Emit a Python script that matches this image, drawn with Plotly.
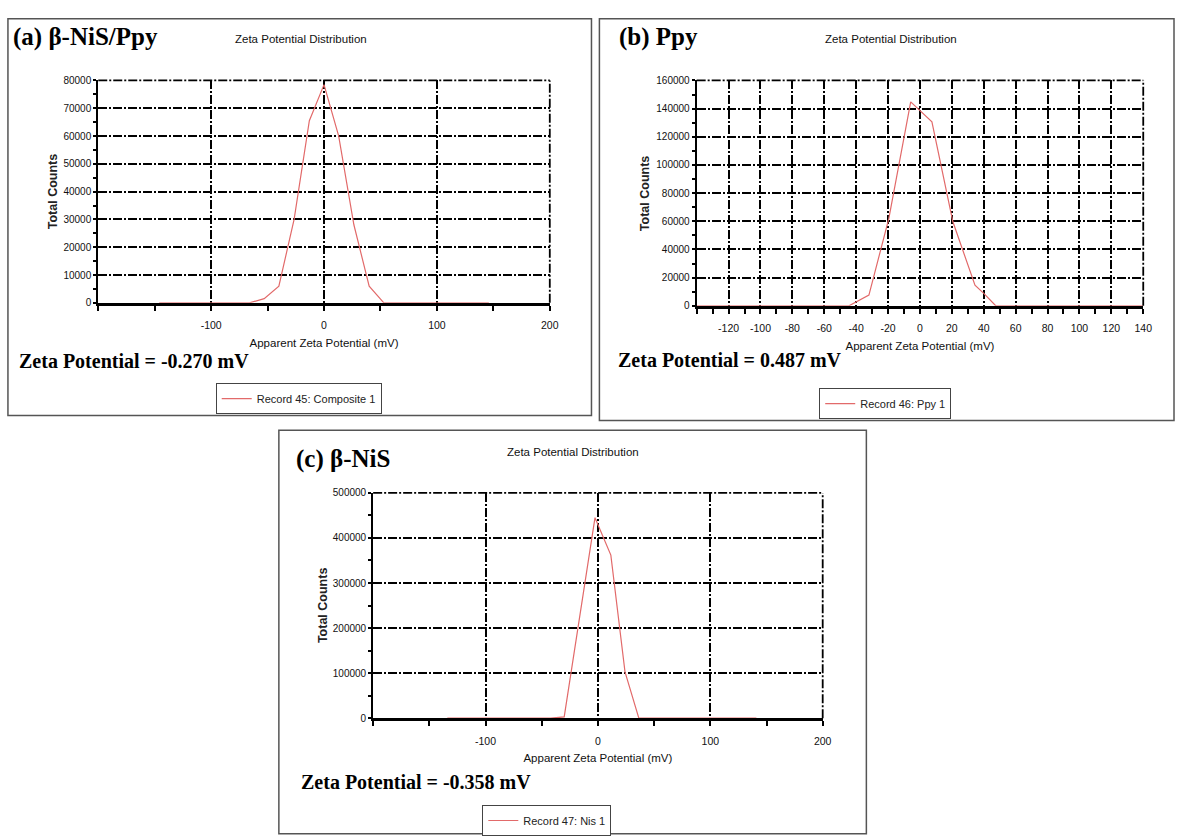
import plotly.graph_objects as go

W, H = 1184, 836

# ---------------- data ----------------
# (a) beta-NiS/Ppy
a_x = [-146, -66, -53, -40, -26.5, -13, 0, 13, 26.5, 40, 53, 66, 146]
a_y = [0, 0, 1500, 6000, 30000, 65500, 78500, 60000, 28000, 6000, 0, 0, 0]
# (b) Ppy
b_x = [-140, -44.5, -32, -19.5, -5.8, 7.5, 20.6, 34.5, 40, 47.5, 140]
b_y = [0, 0, 7600, 62000, 144800, 130600, 59800, 14600, 8800, 0, 0]
# (c) beta-NiS
c_x = [-134, -42, -30, -2.6, 11.5, 24.1, 36.4, 141]
c_y = [0, 0, 3000, 445000, 362000, 103000, 0, 0]

panel_labels = ["(a) β-NiS/Ppy", "(b) Ppy", "(c) β-NiS"]
zeta_texts = ["Zeta Potential = -0.270 mV", "Zeta Potential = 0.487 mV",
              "Zeta Potential = -0.358 mV"]
record_names = ["Record 45: Composite 1", "Record 46: Ppy 1", "Record 47: Nis 1"]
chart_title = "Zeta Potential Distribution"
x_title = "Apparent Zeta Potential (mV)"
y_title = "Total Counts"

a_xticks = [-100, 0, 100, 200]
b_xticks = [-120, -100, -80, -60, -40, -20, 0, 20, 40, 60, 80, 100, 120, 140]
c_xticks = [-100, 0, 100, 200]


def px(x):
    return x / W


def py(y):
    return 1 - y / H


SANS = "Liberation Sans, Arial, sans-serif"
SERIF = "Liberation Serif, Times New Roman, serif"
LINE_COLOR = "#e26a6a"
GRID_DASH = "9px,2px,2px,2px"

fig = go.Figure()
fig.add_trace(go.Scatter(x=a_x, y=a_y, mode="lines", name=record_names[0],
                         line=dict(color=LINE_COLOR, width=1.2),
                         xaxis="x", yaxis="y", legend="legend", showlegend=True))
fig.add_trace(go.Scatter(x=b_x, y=b_y, mode="lines", name=record_names[1],
                         line=dict(color=LINE_COLOR, width=1.2),
                         xaxis="x2", yaxis="y2", legend="legend2", showlegend=True))
fig.add_trace(go.Scatter(x=c_x, y=c_y, mode="lines", name=record_names[2],
                         line=dict(color=LINE_COLOR, width=1.2),
                         xaxis="x3", yaxis="y3", legend="legend3", showlegend=True))

tickfont = dict(family=SANS, size=10.5, color="#111")
ytickfont = dict(family=SANS, size=10, color="#111")
titlefont = dict(family=SANS, size=11.5, color="#111")
ytitlefont = dict(family=SANS, size=12.5, color="#222", weight="bold")


def xaxis(domain, anchor, rng, tickvals, minor_dtick):
    return dict(domain=domain, anchor=anchor, range=rng, tickmode="array",
                tickvals=tickvals, ticktext=[str(v) for v in tickvals],
                ticks="outside", ticklen=5, tickwidth=1.5, tickcolor="black",
                ticklabelstandoff=6,
                showline=True, linecolor="black", linewidth=2.5,
                showgrid=True, gridcolor="black", gridwidth=1.8, griddash=GRID_DASH,
                zeroline=False, tickfont=tickfont,
                minor=dict(dtick=minor_dtick, tick0=0, ticks="outside", ticklen=5,
                           tickwidth=1.5, tickcolor="black", showgrid=False),
                title=dict(text=x_title, font=titlefont, standoff=9))


def yaxis(domain, anchor, rng, dtick):
    return dict(domain=domain, anchor=anchor, range=rng, dtick=dtick, tick0=0,
                tickformat="d", ticks="outside", ticklen=3, tickwidth=1.5,
                tickcolor="black", ticklabelstandoff=0,
                showline=True, linecolor="black", linewidth=2,
                showgrid=True, gridcolor="black", gridwidth=1.8, griddash=GRID_DASH,
                zeroline=False, tickfont=ytickfont,
                minor=dict(dtick=dtick / 2, tick0=0, ticks="outside", ticklen=3,
                           tickwidth=1.5, tickcolor="black", showgrid=False))


fig.update_layout(
    width=W, height=H, margin=dict(l=0, r=0, t=0, b=0),
    paper_bgcolor="white", plot_bgcolor="white", showlegend=True,
    xaxis=xaxis([px(99), px(554)], "y", [-200, 200], a_xticks, 50),
    yaxis=yaxis([py(303), py(76)], "x", [0, 80000], 10000),
    xaxis2=xaxis([px(702), px(1152)], "y2", [-140, 140], b_xticks, 10),
    yaxis2=yaxis([py(306), py(76)], "x2", [0, 160000], 20000),
    xaxis3=xaxis([px(376), px(829)], "y3", [-200, 200], c_xticks, 50),
    yaxis3=yaxis([py(727), py(497)], "x3", [0, 500000], 100000),
)

legend_common = dict(xanchor="center", yanchor="top", bgcolor="white",
                     bordercolor="#444", borderwidth=1, visible=True,
                     font=dict(family=SANS, size=11, color="#222"),
                     itemwidth=30, tracegroupgap=0)
fig.update_layout(
    legend=dict(x=px(301), y=py(385), **legend_common),
    legend2=dict(x=px(892), y=py(390), **legend_common),
    legend3=dict(x=px(551), y=py(816), **legend_common),
)

# panel borders
borders = [(8, 13, 596, 418), (604, 13, 1183, 423), (281, 433, 873, 845)]
for (x0, y0, x1, y1) in borders:
    fig.add_shape(type="rect", xref="paper", yref="paper",
                  x0=px(x0), x1=px(x1), y0=py(y1), y1=py(y0),
                  line=dict(color="#555", width=1.5), layer="below")

# frame top/right dashed lines (grid at range ends)
for xa, ya in [("x", "y"), ("x2", "y2"), ("x3", "y3")]:
    fig.add_shape(type="line", xref=f"{xa} domain", yref=f"{ya} domain",
                  x0=0, x1=1, y0=1, y1=1,
                  line=dict(color="black", width=1.8, dash=GRID_DASH))
    fig.add_shape(type="line", xref=f"{xa} domain", yref=f"{ya} domain",
                  x0=1, x1=1, y0=0, y1=1,
                  line=dict(color="black", width=1.8, dash=GRID_DASH))

# y-axis titles (rotated)
ytitle_pos = [(53, 189.5), (650, 191), (325, 612)]
for (x, y) in ytitle_pos:
    fig.add_annotation(xref="paper", yref="paper", x=px(x), y=py(y),
                       xanchor="center", yanchor="middle", showarrow=False,
                       textangle=-90, text=y_title, font=ytitlefont)

# panel labels
label_pos = [(11, 32), (622, 32), (296, 462)]
for (x, y), t in zip(label_pos, panel_labels):
    fig.add_annotation(xref="paper", yref="paper", x=px(x), y=py(y),
                       xanchor="left", yanchor="middle", showarrow=False,
                       text=f"<b>{t}</b>",
                       font=dict(family=SERIF, size=25, color="black"))

# chart titles
title_pos = [(303, 34), (898, 34), (577, 455)]
for (x, y) in title_pos:
    fig.add_annotation(xref="paper", yref="paper", x=px(x), y=py(y),
                       xanchor="center", yanchor="middle", showarrow=False,
                       text=chart_title, font=titlefont)

# zeta potential texts
zeta_pos = [(17, 362), (621, 361), (301, 792)]
for (x, y), t in zip(zeta_pos, zeta_texts):
    fig.add_annotation(xref="paper", yref="paper", x=px(x), y=py(y),
                       xanchor="left", yanchor="middle", showarrow=False,
                       text=f"<b>{t}</b>",
                       font=dict(family=SERIF, size=20, color="black"))

fig.write_html("out.html")
